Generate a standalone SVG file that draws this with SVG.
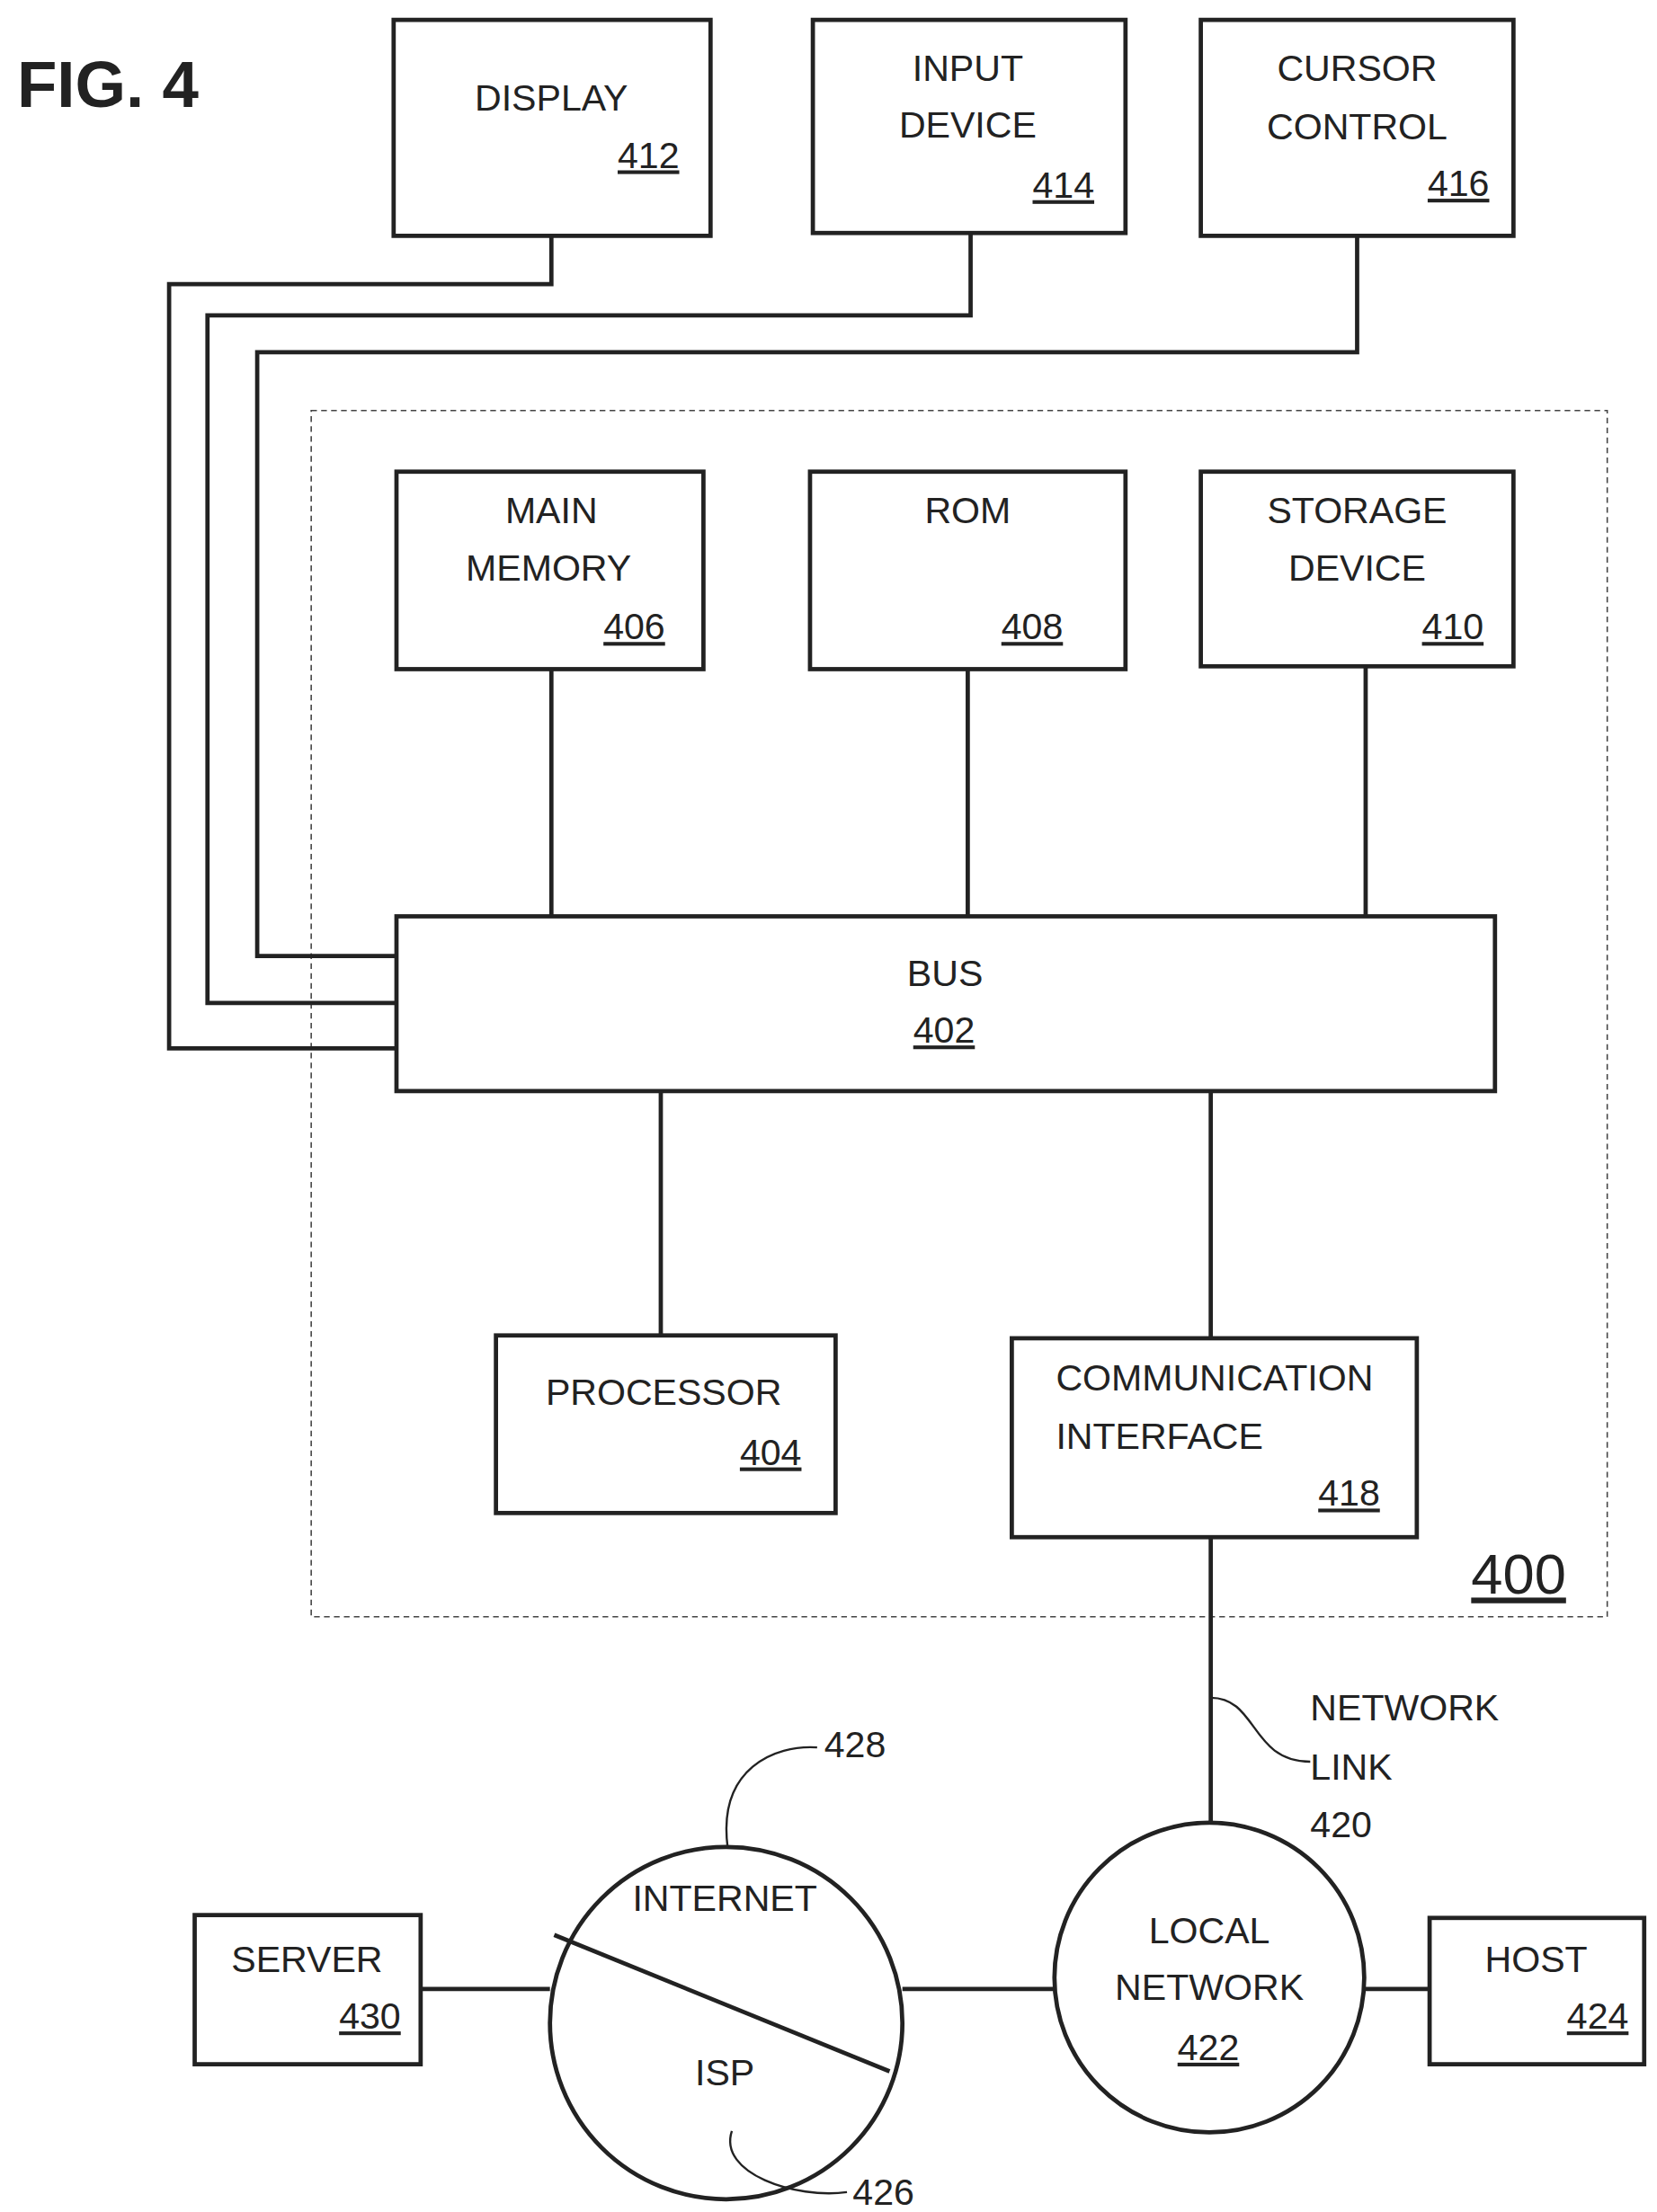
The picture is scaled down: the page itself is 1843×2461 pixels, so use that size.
<svg xmlns="http://www.w3.org/2000/svg" width="1843" height="2461" viewBox="0 0 1843 2461">
<style>
.b{fill:#fff;stroke:#222;stroke-width:3}
.l{fill:none;stroke:#222;stroke-width:3}
.t{font-family:"Liberation Sans",Arial,sans-serif;font-size:26px;fill:#222;text-anchor:middle}
.n{text-decoration:underline;text-anchor:end}
.s{text-anchor:start}
</style>
<rect width="1843" height="2461" fill="#fff"/>
<g transform="scale(1.5806)">
<text x="12" y="75" style="font-family:'Liberation Sans',Arial,sans-serif;font-weight:bold;font-size:46px;fill:#222">FIG. 4</text>
<rect x="219" y="289" width="912" height="849" fill="none" stroke="#444" stroke-width="1" stroke-dasharray="4,3"/>
<text x="1102" y="1122" class="t n" style="font-size:40px">400</text>
<g id="display"><rect class="b" x="277" y="14" width="223" height="152"/><text class="t" x="388" y="78">DISPLAY</text><text class="t n" x="478" y="118">412</text></g>
<g id="input"><rect class="b" x="572" y="14" width="220" height="150"/><text class="t" x="681" y="57">INPUT</text><text class="t" x="681" y="97">DEVICE</text><text class="t n" x="770" y="139">414</text></g>
<g id="cursor"><rect class="b" x="845" y="14" width="220" height="152"/><text class="t" x="955" y="57">CURSOR</text><text class="t" x="955" y="98">CONTROL</text><text class="t n" x="1048" y="138">416</text></g>
<g id="mainmem"><rect class="b" x="279" y="332" width="216" height="139"/><text class="t" x="388" y="368">MAIN</text><text class="t" x="386" y="409">MEMORY</text><text class="t n" x="468" y="450">406</text></g>
<g id="rom"><rect class="b" x="570" y="332" width="222" height="139"/><text class="t" x="681" y="368">ROM</text><text class="t n" x="748" y="450">408</text></g>
<g id="storage"><rect class="b" x="845" y="332" width="220" height="137"/><text class="t" x="955" y="368">STORAGE</text><text class="t" x="955" y="409">DEVICE</text><text class="t n" x="1044" y="450">410</text></g>
<g id="bus"><rect class="b" x="279" y="645" width="773" height="123"/><text class="t" x="665" y="694">BUS</text><text class="t n" x="686" y="734">402</text></g>
<g id="processor"><rect class="b" x="349" y="940" width="239" height="125"/><text class="t" x="467" y="989">PROCESSOR</text><text class="t n" x="564" y="1031">404</text></g>
<g id="comm"><rect class="b" x="712" y="942" width="285" height="140"/><text class="t s" x="743" y="979">COMMUNICATION</text><text class="t s" x="743" y="1020">INTERFACE</text><text class="t n" x="971" y="1060">418</text></g>
<g id="netlink"><text class="t s" x="922" y="1211">NETWORK</text><text class="t s" x="922" y="1253">LINK</text><text class="t s" x="922" y="1293">420</text></g>
<g id="local"><circle class="b" cx="851" cy="1392" r="109"/><text class="t" x="851" y="1368">LOCAL</text><text class="t" x="851" y="1408">NETWORK</text><text class="t n" x="872" y="1450">422</text></g>
<g id="internet"><circle class="b" cx="511" cy="1424" r="124"/><line class="l" x1="390" y1="1362" x2="626" y2="1458"/><text class="t" x="510" y="1345">INTERNET</text><text class="t" x="510" y="1468">ISP</text><text class="t s" x="580" y="1237">428</text><text class="t s" x="600" y="1552">426</text></g>
<g id="server"><rect class="b" x="137" y="1348" width="159" height="105"/><text class="t" x="216" y="1388">SERVER</text><text class="t n" x="282" y="1428">430</text></g>
<g id="host"><rect class="b" x="1006" y="1350" width="151" height="103"/><text class="t" x="1081" y="1388">HOST</text><text class="t n" x="1146" y="1428">424</text></g>
<g id="connectors">
<polyline class="l" points="388,166 388,200 119,200 119,738 279,738"/>
<polyline class="l" points="683,164 683,222 146,222 146,706 279,706"/>
<polyline class="l" points="955,166 955,248 181,248 181,673 279,673"/>
<line class="l" x1="388" y1="471" x2="388" y2="645"/>
<line class="l" x1="681" y1="471" x2="681" y2="645"/>
<line class="l" x1="961" y1="469" x2="961" y2="645"/>
<line class="l" x1="465" y1="768" x2="465" y2="940"/>
<line class="l" x1="852" y1="768" x2="852" y2="942"/>
<line class="l" x1="852" y1="1082" x2="852" y2="1283"/>
<line class="l" x1="296" y1="1400" x2="387" y2="1400"/>
<line class="l" x1="635" y1="1400" x2="742" y2="1400"/>
<line class="l" x1="960" y1="1400" x2="1006" y2="1400"/>
<path class="l" style="stroke-width:1.5" d="M852,1195 C885,1195 880,1240 922,1240"/>
<path class="l" style="stroke-width:1.5" d="M512,1300 C505,1245 545,1228 575,1230"/>
<path class="l" style="stroke-width:1.5" d="M515,1500 C505,1530 560,1548 596,1543"/>
</g>
</g>
</svg>
